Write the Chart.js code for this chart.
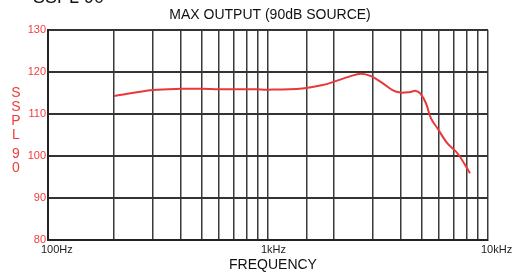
<!DOCTYPE html>
<html>
<head>
<meta charset="utf-8">
<script src="https://cdn.jsdelivr.net/npm/chart.js@4/dist/chart.umd.min.js"></script>
<style>
  html, body { margin: 0; padding: 0; background: #fff; }
  #wrap { width: 512px; height: 276px; }
</style>
</head>
<body>
<div id="wrap"><canvas id="sspl"></canvas></div>
<script>
/* data */
var freqs = [200, 300, 406, 500, 600, 880, 1000, 1430, 1770, 2000, 2340, 2650, 2940, 3330, 3680, 4000, 4390, 4700, 4940, 5230, 5500, 5890, 6540, 7280, 8280];
var sspl = [114.3, 115.7, 116.0, 116.0, 115.9, 115.9, 115.8, 116.1, 116.9, 117.7, 118.9, 119.6, 119.0, 117.3, 115.7, 115.1, 115.2, 115.5, 114.8, 112.5, 109.0, 106.6, 103.0, 100.6, 95.9];
var freqLabels = { 100: '100Hz', 1000: '1kHz', 10000: '10kHz' };
var yTitle = ['S', 'S', 'P', 'L', '9', '0'];

var red = '#f03c3c';
var font = '"Liberation Sans", Arial, sans-serif';
var points = freqs.map(function (f, i) { return { x: f, y: sspl[i] }; });

// texts placed by hand: cut-off heading, chart title, x title, stacked y title
var extraText = {
  id: 'extraText',
  afterDraw: function (chart) {
    var ctx = chart.ctx;
    ctx.save();
    ctx.fillStyle = '#111';
    ctx.textBaseline = 'alphabetic';
    ctx.textAlign = 'left';
    ctx.font = '18px ' + font;
    ctx.fillText('SSPL 90', 33, 3);
    ctx.textAlign = 'center';
    ctx.textBaseline = 'middle';
    ctx.font = '14px ' + font;
    ctx.fillText('MAX OUTPUT (90dB SOURCE)', 270, 15);
    ctx.fillText('FREQUENCY', 273, 265);
    ctx.fillStyle = red;
    var ys = [93, 107, 121, 135, 154, 168];
    yTitle.forEach(function (ch, i) { ctx.fillText(ch, 16, ys[i]); });
    ctx.restore();
  }
};

new Chart(document.getElementById('sspl'), {
  type: 'line',
  data: {
    datasets: [{
      data: points,
      borderColor: '#e8383a',
      borderWidth: 2,
      pointRadius: 0,
      tension: 0.35,
      fill: false
    }]
  },
  options: {
    responsive: true,
    maintainAspectRatio: false,
    animation: false,
    layout: { padding: { top: 30, left: 0, right: 0, bottom: 0 } },
    plugins: {
      legend: { display: false },
      tooltip: { enabled: false }
    },
    scales: {
      x: {
        type: 'logarithmic',
        min: 100,
        max: 10000,
        afterFit: function (s) { s.height = 36; s.paddingLeft = 0; s.paddingRight = 24; },
        grid: { color: '#3a3a3a', lineWidth: 1.5, drawTicks: false },
        border: { color: '#222', width: 2 },
        ticks: {
          autoSkip: false,
          maxRotation: 0,
          align: 'start',
          labelOffset: -7,
          padding: 3,
          color: '#222',
          font: { family: font, size: 11 },
          callback: function (v) { return freqLabels[v] || ''; }
        }
      },
      y: {
        min: 80,
        max: 130,
        afterFit: function (s) { s.width = 48; s.paddingTop = 0; },
        grid: { color: '#333', lineWidth: 2, drawTicks: false },
        border: { color: '#222', width: 2 },
        ticks: {
          stepSize: 10,
          padding: 2,
          color: red,
          font: { family: font, size: 11 }
        }
      }
    }
  },
  plugins: [extraText]
});
</script>
</body>
</html>
